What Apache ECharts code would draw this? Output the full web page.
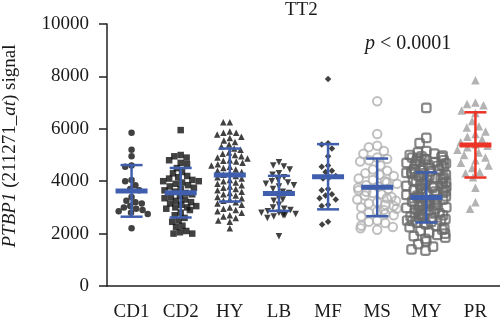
<!DOCTYPE html>
<html><head><meta charset="utf-8">
<script src="https://cdn.jsdelivr.net/npm/echarts@6/dist/echarts.min.js"></script>
<style>html,body{margin:0;padding:0;background:#fff}#c{width:500px;height:328px}</style>
</head><body><div id="c"></div>
<script>
const categories = ['CD1','CD2','HY','LB','MF','MS','MY','PR'];
const yTicks = [0,2000,4000,6000,8000,10000];

const cd1 = [5850,5200,4950,4600,4550,4050,4000,3850,3700,3650,3400,3250,3200,3150,3050,3000,2950,2900,2850,2800,2750,2200];
const cd2 = [5950,5000,4950,4900,4800,4700,4650,4500,4350,4300,4200,4150,4100,4050,4000,4000,3950,3900,3850,3800,3750,3700,3650,3600,3550,3500,3450,3400,3350,3300,3250,3200,3150,3100,3050,3000,3000,2950,2900,2800,2700,2600,2500,2450,2300,2250,2100,2050,2000,2000];
const hy = [6250,6250,5900,5850,5850,5780,5700,5650,5550,5500,5400,5320,5250,5200,5100,5050,5000,4950,4900,4870,4800,4780,4750,4700,4650,4600,4550,4500,4450,4400,4350,4300,4250,4200,4150,4100,4050,4000,3950,3900,3850,3800,3750,3700,3650,3600,3550,3500,3450,3400,3350,3300,3250,3200,3150,3100,3000,2950,2900,2850,2800,2700,2650,2600,2500,2450,2200];
const lb = [4720,4600,4560,4450,4300,4250,4150,4050,4000,3950,3900,3850,3800,3700,3600,3550,3450,3300,3250,3100,3000,2950,2900,2850,2800,2800,2750,2700,2700,2650,2600,1900];
const mf = [7900,5450,5400,5250,4950,4600,4550,4400,4350,4200,4150,4100,3700,3650,3500,3450,3350,3300,3100,3050,2450,2350];
const ms = [7050,5800,5350,5300,5150,5050,4900,4850,4800,4750,4600,4450,4400,4300,4250,4200,4100,4050,4000,3950,3900,3850,3800,3750,3700,3650,3600,3550,3500,3450,3400,3350,3300,3250,3200,3150,3100,3050,3000,2950,2900,2850,2800,2750,2700,2650,2500,2450,2400,2300,2250,2200,2150];
const my = [6800,5650,5450,5150,5100,5050,5000,4980,4950,4920,4900,4880,4850,4820,4800,4780,4750,4720,4700,4680,4650,4620,4600,4580,4550,4520,4500,4470,4450,4420,4400,4380,4350,4320,4300,4280,4250,4220,4200,4180,4150,4120,4100,4080,4050,4020,4000,3980,3950,3920,3900,3880,3850,3820,3800,3780,3750,3720,3700,3680,3650,3620,3600,3580,3550,3520,3500,3480,3450,3420,3400,3380,3350,3320,3300,3280,3250,3220,3200,3180,3150,3120,3100,3080,3050,3020,3000,2980,2950,2920,2900,2880,2850,2820,2800,2780,2750,2720,2700,2680,2650,2620,2600,2580,2550,2520,2500,2480,2450,2420,2400,2350,2300,2250,2200,2150,2100,2050,2000,1950,1900,1850,1800,1700,1600,1500,1400,1350];
const pr = [7850,7000,6950,6900,6700,6600,6300,6100,6050,5900,5800,5700,5600,5500,5400,5350,5300,5200,5100,5000,4900,4800,4700,4600,4500,4350,4300,4150,3750,3200,2950];

const means = [3630,3560,4235,3535,4170,3765,3380,5385];
const sds = [985,945,1010,670,1245,1100,955,1245];

const groups = [cd1,cd2,hy,lb,mf,ms,my,pr];
const styles = [
  {symbol:'circle', symbolSize:6.5, itemStyle:{color:'#111'}},
  {symbol:'rect', symbolSize:6.5, itemStyle:{color:'#111'}},
  {symbol:'triangle', symbolSize:6.5, itemStyle:{color:'#111'}},
  {symbol:'triangle', symbolSize:6.5, symbolRotate:180, itemStyle:{color:'#111'}},
  {symbol:'diamond', symbolSize:6.5, itemStyle:{color:'#111'}},
  {symbol:'circle', symbolSize:8.5, itemStyle:{color:'rgba(0,0,0,0)', borderColor:'#b0b0b0', borderWidth:2}},
  {symbol:'roundRect', symbolSize:8.5, itemStyle:{color:'rgba(0,0,0,0)', borderColor:'#6a6a6a', borderWidth:2.2}},
  {symbol:'triangle', symbolSize:8.5, itemStyle:{color:'#a0a0a0'}}
];

const series = groups.map((g,i)=>Object.assign({
  type:'scatter', z:2, silent:true,
  data: g.map(v=>[categories[i], v])
}, styles[i]));

const blue = '#3f5fae', red = '#ec3326';
series.push({
  type:'custom', z:5, silent:true,
  data: means.map((m,i)=>[i, m, sds[i]]),
  renderItem(params, api){
    const i = api.value(0), m = api.value(1), s = api.value(2);
    const x = api.coord([i, m])[0];
    const yM = api.coord([i, m])[1];
    const yT = api.coord([i, m+s])[1];
    const yB = api.coord([i, m-s])[1];
    const c = i === 7 ? red : blue;
    const st = w => ({stroke:c, lineWidth:w});
    return {type:'group', children:[
      {type:'line', shape:{x1:x,y1:yT,x2:x,y2:yB}, style:st(2.5)},
      {type:'line', shape:{x1:x-11,y1:yT,x2:x+11,y2:yT}, style:st(2.5)},
      {type:'line', shape:{x1:x-11,y1:yB,x2:x+11,y2:yB}, style:st(2.5)},
      {type:'line', shape:{x1:x-16,y1:yM,x2:x+16,y2:yM}, style:st(5)}
    ]};
  }
});

const font = '"Liberation Serif", "DejaVu Serif", serif';
const chart = echarts.init(document.getElementById('c'), null, {renderer:'canvas'});
chart.setOption({
  animation:false,
  grid:{left:107, right:-2, top:24, bottom:42, containLabel:false},
  xAxis:{
    type:'category', data:categories,
    jitter:40, jitterOverlap:false, jitterMargin:0,
    axisLine:{lineStyle:{color:'#222', width:1.5}},
    axisTick:{alignWithLabel:true, interval:0, length:8, lineStyle:{color:'#222', width:1.5}},
    axisLabel:{interval:0, hideOverlap:false, fontFamily:font, fontSize:19, color:'#1a1a1a', margin:17},
    splitLine:{show:false}
  },
  yAxis:{
    type:'value', min:yTicks[0], max:yTicks[yTicks.length-1], interval:2000,
    axisLine:{show:true, lineStyle:{color:'#222', width:1.5}},
    axisTick:{show:true, length:8, lineStyle:{color:'#222', width:1.5}},
    axisLabel:{fontFamily:font, fontSize:19, color:'#1a1a1a', margin:18, formatter:v=>String(v)},
    splitLine:{show:false}
  },
  graphic:[
    {type:'text', x:10, y:146, rotation:Math.PI/2, style:{
      text:'{i|PTBP1} (211271_{i|at}) signal', align:'center', verticalAlign:'middle',
      font:'19px '+font, fill:'#1a1a1a',
      rich:{i:{fontStyle:'italic', fontFamily:font, fontSize:19, fill:'#1a1a1a'}}}},
    {type:'text', left:285, top:1, style:{text:'TT2', font:'19px '+font, fill:'#1a1a1a'}},
    {type:'text', left:365, top:34, style:{text:'{i|p} < 0.0001', font:'20px '+font, fill:'#1a1a1a',
      rich:{i:{fontStyle:'italic', fontFamily:font, fontSize:20, fill:'#1a1a1a'}}}}
  ],
  series:series
});
</script></body></html>
